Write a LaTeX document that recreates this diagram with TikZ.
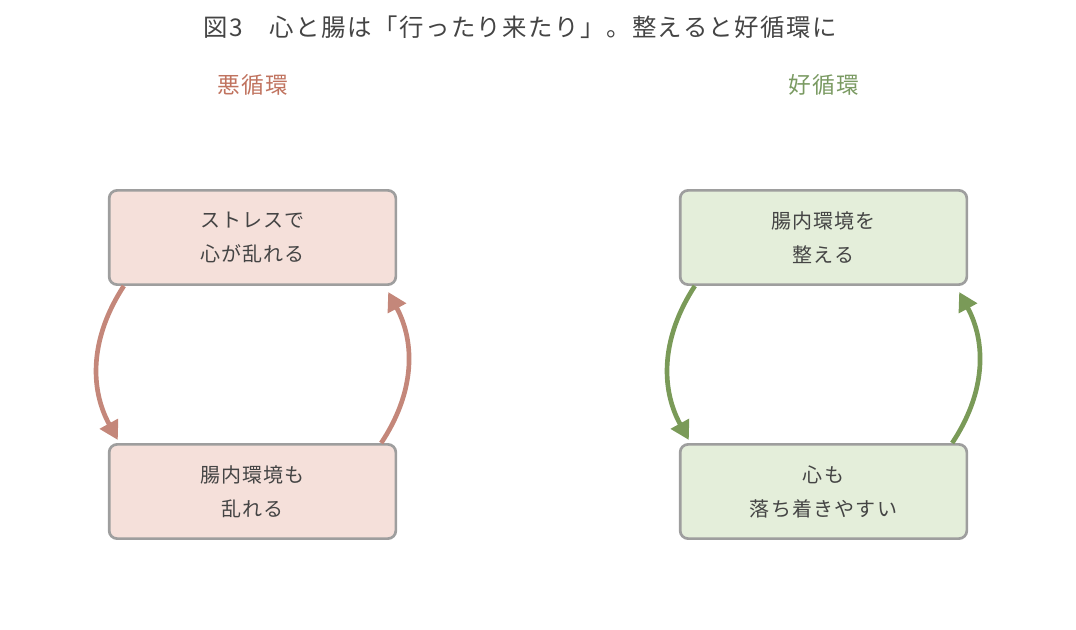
\documentclass[tikz,border=0pt]{standalone}
\usepackage{fontspec}
\setmainfont[LetterSpace=6]{Noto Sans CJK JP}
\usepackage{tikz}
\usetikzlibrary{arrows.meta}
\usetikzlibrary{positioning}
\usetikzlibrary{calc}
\definecolor{badfill}{HTML}{F5E0DA}
\definecolor{badline}{HTML}{C4877A}
\definecolor{badtitle}{HTML}{C0735F}
\definecolor{goodfill}{HTML}{E4EEDA}
\definecolor{goodline}{HTML}{7A9A58}
\definecolor{goodtitle}{HTML}{7A9A62}
\definecolor{boxline}{HTML}{9E9E9E}
\definecolor{txt}{HTML}{444444}
\tikzstyle{state} = [draw=boxline, line width=2pt, rounded corners=6pt,
minimum width=215pt, minimum height=70.7pt, align=center, text=txt,
font=\fontsize{15}{25.5}\selectfont]
\tikzstyle{cycle} = [draw, line width=3.5pt, -{Triangle[length=14pt,width=15pt]}]

\begin{document}
\begin{tikzpicture}[x=0.75pt, y=0.75pt,
		heading/.style={font=\fontsize{17}{20}\selectfont}]
		\useasboundingbox (0,0) rectangle (1076,-630);
		\node [text=txt, font=\fontsize{18.3}{20}\selectfont] (title) at (520,-27)
			{図3　心と腸は「行ったり来たり」。整えると好循環に};
		%% Vicious cycle
		\node [heading, text=badtitle] (bad) at (253,-85) {悪循環};
		\node [state, fill=badfill] (stress) at (252.5,-237.5) {ストレスで\\心が乱れる};
		\node [state, fill=badfill] (gut) at (252.5,-491.5) {腸内環境も\\乱れる};
		\path [cycle, badline] ($(stress.south west)+(16,0)$) to [bend right = 31]
			($(gut.north west)+(10,3)$);
		\path [cycle, badline] ($(gut.north east)+(-16,0)$) to [bend right = 31]
			($(stress.south east)+(-9,-6)$);
		%% Virtuous cycle
		\node [heading, text=goodtitle] (good) at (824,-85) {好循環};
		\node [state, fill=goodfill] (care) at (823.5,-237.5) {腸内環境を\\整える};
		\node [state, fill=goodfill] (calm) at (823.5,-491.5) {心も\\落ち着きやすい};
		\path [cycle, goodline] ($(care.south west)+(16,0)$) to [bend right = 31]
			($(calm.north west)+(10,3)$);
		\path [cycle, goodline] ($(calm.north east)+(-16,0)$) to [bend right = 31]
			($(care.south east)+(-9,-6)$);
	\end{tikzpicture}
\end{document}
